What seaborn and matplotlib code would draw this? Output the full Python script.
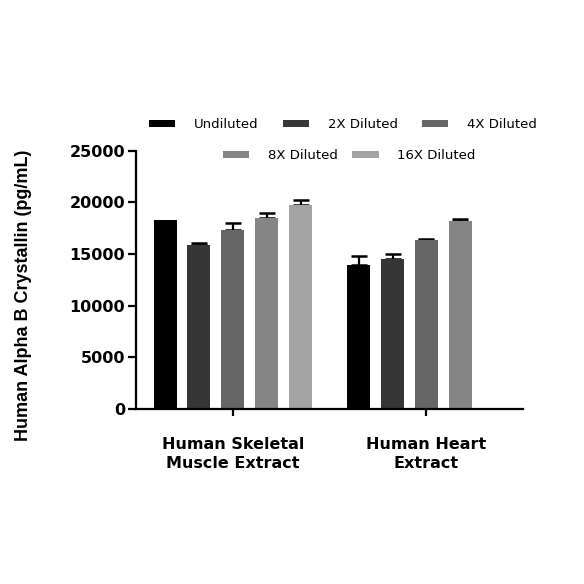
import numpy as np
import pandas as pd
import matplotlib
matplotlib.use("Agg")
import matplotlib.pyplot as plt
import seaborn as sns
from matplotlib.patches import Patch

# --- data ---
samples = ["Human Skeletal\nMuscle Extract", "Human Heart\nExtract"]
dilutions = ["Undiluted", "2X Diluted", "4X Diluted", "8X Diluted", "16X Diluted"]
skeletal_mean = [18260, 15890, 17350, 18450, 19780]
skeletal_err = [0, 220, 620, 490, 450]
heart_mean = [13940, 14560, 16310, 18190, np.nan]
heart_err = [880, 450, 100, 160, np.nan]
bar_colors = ["#000000", "#363636", "#666666", "#858585", "#a3a3a3"]
y_ticks = [0, 5000, 10000, 15000, 20000, 25000]

rows = []
for s, means, errs in [(samples[0], skeletal_mean, skeletal_err), (samples[1], heart_mean, heart_err)]:
    for d, m, e in zip(dilutions, means, errs):
        rows.append({"sample": s, "dilution": d, "conc": m, "err": e})
df = pd.DataFrame(rows).dropna()

sns.set_theme(style="ticks")
plt.rcParams["font.family"] = ["DejaVu Sans"]
plt.rcParams["text.color"] = "black"
plt.rcParams["axes.labelcolor"] = "black"
plt.rcParams["xtick.color"] = "black"
plt.rcParams["ytick.color"] = "black"
plt.rcParams["axes.edgecolor"] = "black"

fig = plt.figure(figsize=(5.84, 5.84), dpi=100)
ax = fig.add_axes([0.233, 0.2997, 0.663, 0.4423])

sns.barplot(data=df, x="sample", y="conc", hue="dilution", order=samples,
            hue_order=dilutions, palette=bar_colors, errorbar=None,
            width=0.876, gap=0.32, saturation=1, legend=False, ax=ax,
            edgecolor="none", linewidth=0, zorder=2.2)

# upper-only error bars like Prism
for d, container in zip(dilutions, ax.containers):
    sub = df[df["dilution"] == d]
    for bar in container:
        xc = bar.get_x() + bar.get_width() / 2
        s = samples[int(round(xc))]
        e = sub.loc[sub["sample"] == s, "err"].iloc[0]
        if e <= 0:
            continue
        ax.errorbar(xc, bar.get_height(), yerr=[[0], [e]], fmt="none",
                    ecolor="black", elinewidth=1.6, capsize=5.5, capthick=1.8, zorder=2.1)

ax.set_xlim(-0.5, 1.5)
ax.set_ylim(0, 25000)
ax.set_yticks(y_ticks)
ax.set_yticklabels([str(t) for t in y_ticks], fontsize=11.5, fontweight="bold")
ax.set_xticks([0, 1])
ax.set_xticklabels(samples, fontsize=11.5, fontweight="bold", linespacing=1.35)
ax.set_xlabel("")
ax.set_ylabel("Human Alpha B Crystallin (pg/mL)", fontsize=13, fontweight="bold",
              family="Liberation Sans")
ax.yaxis.set_label_coords(-0.27, 0.44)

sns.despine(ax=ax)
for sp in ["left", "bottom"]:
    ax.spines[sp].set_linewidth(1.6)
ax.tick_params(axis="y", length=6, width=1.6, pad=2)
ax.tick_params(axis="x", length=5, width=1.6, pad=15)

# two-row legend, second row centred
handles = [Patch(facecolor=c, edgecolor="none") for c in bar_colors]
fig.legend(handles[:3], dilutions[:3], loc="center", bbox_to_anchor=(0.587, 0.786),
           ncol=3, frameon=False, fontsize=9.5, handlelength=2.0, handleheight=0.45,
           columnspacing=1.85, handletextpad=1.4)
fig.legend(handles[3:], dilutions[3:], loc="center", bbox_to_anchor=(0.598, 0.733),
           ncol=2, frameon=False, fontsize=9.5, handlelength=2.0, handleheight=0.45,
           columnspacing=1.1, handletextpad=1.4)

fig.savefig("out.png", dpi=100)
